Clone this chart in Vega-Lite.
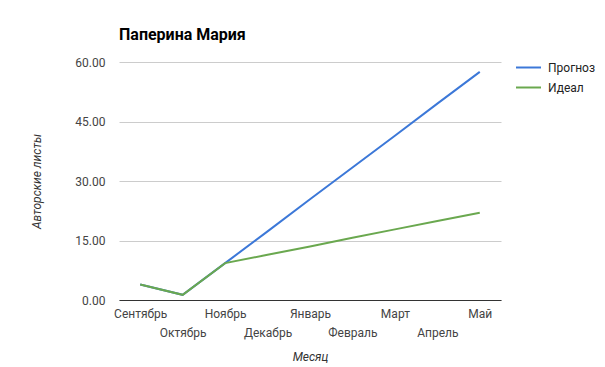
{
  "$schema": "https://vega.github.io/schema/vega-lite/v6.json",
  "width": 382,
  "height": 238,
  "autosize": {"type": "none"},
  "padding": {"left": 119, "top": 62, "right": 104, "bottom": 67},
  "background": "#ffffff",
  "title": {
    "text": "Паперина Мария",
    "anchor": "start",
    "frame": "group",
    "font": "Roboto",
    "fontSize": 16,
    "fontWeight": "bold",
    "color": "#000000",
    "offset": 11
  },
  "config": {
    "view": {"stroke": null},
    "font": "Roboto"
  },
  "data": {
    "values": [
      {"month": "Сентябрь", "series": "Прогноз", "value": 3.9},
      {"month": "Октябрь", "series": "Прогноз", "value": 1.3},
      {"month": "Ноябрь", "series": "Прогноз", "value": 9.3},
      {"month": "Декабрь", "series": "Прогноз", "value": 17.3},
      {"month": "Январь", "series": "Прогноз", "value": 25.4},
      {"month": "Февраль", "series": "Прогноз", "value": 33.4},
      {"month": "Март", "series": "Прогноз", "value": 41.4},
      {"month": "Апрель", "series": "Прогноз", "value": 49.5},
      {"month": "Май", "series": "Прогноз", "value": 57.5},
      {"month": "Сентябрь", "series": "Идеал", "value": 3.9},
      {"month": "Октябрь", "series": "Идеал", "value": 1.3},
      {"month": "Ноябрь", "series": "Идеал", "value": 9.3},
      {"month": "Декабрь", "series": "Идеал", "value": 11.4},
      {"month": "Январь", "series": "Идеал", "value": 13.5},
      {"month": "Февраль", "series": "Идеал", "value": 15.7},
      {"month": "Март", "series": "Идеал", "value": 17.8},
      {"month": "Апрель", "series": "Идеал", "value": 19.9},
      {"month": "Май", "series": "Идеал", "value": 22.0}
    ]
  },
  "encoding": {
    "x": {
      "field": "month",
      "type": "nominal",
      "sort": ["Сентябрь", "Октябрь", "Ноябрь", "Декабрь", "Январь", "Февраль", "Март", "Апрель", "Май"],
      "scale": {"type": "point", "padding": 0.5},
      "axis": {
        "title": "Месяц",
        "titleFont": "Roboto",
        "titleFontSize": 12,
        "titleFontStyle": "italic",
        "titleFontWeight": "normal",
        "titleColor": "#333333",
        "titlePadding": 13,
        "labelAngle": 0,
        "labelFont": "Roboto",
        "labelFontSize": 12,
        "labelColor": "#444444",
        "labelPadding": 8,
        "labelLineHeight": 19,
        "labelOverlap": false,
        "labelExpr": "indexof(['Октябрь','Декабрь','Февраль','Апрель'], datum.value) >= 0 ? ['', datum.label] : datum.label",
        "ticks": false,
        "domain": true,
        "domainColor": "#333333",
        "domainWidth": 1,
        "grid": false
      }
    },
    "y": {
      "field": "value",
      "type": "quantitative",
      "scale": {"domain": [0, 60], "nice": false},
      "axis": {
        "title": "Авторские листы",
        "titleFont": "Roboto",
        "titleFontSize": 12,
        "titleFontStyle": "italic",
        "titleFontWeight": "normal",
        "titleColor": "#333333",
        "titleX": -83,
        "titleY": 119,
        "titleAngle": -90,
        "titleAlign": "center",
        "titleBaseline": "middle",
        "values": [0, 15, 30, 45, 60],
        "format": ".2f",
        "labelFont": "Roboto",
        "labelFontSize": 12,
        "labelColor": "#444444",
        "labelPadding": 14,
        "ticks": false,
        "domain": false,
        "grid": true,
        "gridColor": "#cccccc",
        "gridWidth": 1
      }
    },
    "color": {
      "field": "series",
      "type": "nominal",
      "scale": {"domain": ["Прогноз", "Идеал"], "range": ["#3c78d8", "#6aa84f"]},
      "legend": {
        "title": null,
        "orient": "none",
        "legendX": 396,
        "legendY": -8,
        "symbolType": "stroke",
        "symbolSize": 625,
        "symbolStrokeWidth": 2,
        "labelFont": "Roboto",
        "labelFontSize": 12,
        "labelColor": "#222222",
        "rowPadding": -5,
        "labelOffset": 6
      }
    }
  },
  "layer": [
    {
      "transform": [{"filter": "datum.series === 'Прогноз'"}],
      "mark": {"type": "line", "strokeWidth": 2}
    },
    {
      "transform": [{"filter": "datum.series === 'Идеал'"}],
      "mark": {"type": "line", "strokeWidth": 2}
    }
  ]
}
